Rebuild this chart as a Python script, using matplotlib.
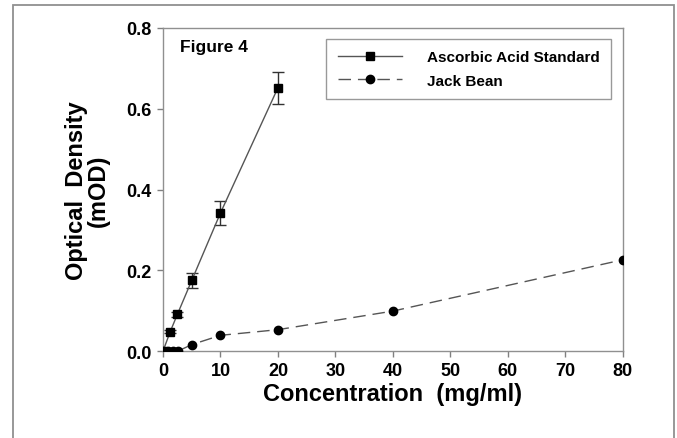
import matplotlib
matplotlib.use("Agg")
import matplotlib.pyplot as plt
from matplotlib.lines import Line2D
from matplotlib.patches import Rectangle

# ── Data ──────────────────────────────────────────────────────────────
asc_x   = [0, 1.25, 2.5, 5, 10, 20]
asc_y   = [0.0, 0.048, 0.091, 0.175, 0.342, 0.652]
asc_err = [0.0, 0.004, 0.006, 0.018, 0.030, 0.040]

bean_x = [0, 0.8, 1.7, 2.6, 5, 10, 20, 40, 80]
bean_y = [0.0, 0.0, 0.0, 0.0, 0.016, 0.039, 0.053, 0.099, 0.226]

x_ticks = [0, 10, 20, 30, 40, 50, 60, 70, 80]
y_ticks = [0.0, 0.2, 0.4, 0.6, 0.8]

plt.rcParams["font.family"] = ["Liberation Sans", "DejaVu Sans"]
plt.rcParams["font.weight"] = "bold"

fig = plt.figure(figsize=(6.77, 4.39), dpi=100)
ax = fig.add_axes([0.2408, 0.198, 0.679, 0.736])

# outer grey frame of the original page
fig.patches.append(Rectangle((12.5 / 677, -0.05), (674 - 12.5) / 677, 1.05 - 6 / 439,
                             transform=fig.transFigure, fill=False,
                             edgecolor="#909090", linewidth=1.3))

ax.errorbar(asc_x, asc_y, yerr=asc_err, color="#555555", linewidth=1.0,
            marker="s", markersize=6, markerfacecolor="black",
            markeredgecolor="black", ecolor="#333333", elinewidth=1.0,
            capsize=4, zorder=3)
ax.plot(bean_x, bean_y, color="#555555", linewidth=1.0, dashes=(9, 5),
        marker="o", markersize=6, markerfacecolor="black",
        markeredgecolor="black", zorder=3)

ax.set_xlim(0, 80)
ax.set_ylim(0, 0.8)
ax.set_xticks(x_ticks)
ax.set_yticks(y_ticks)
ax.set_yticklabels([f"{v:.1f}" for v in y_ticks])
ax.tick_params(direction="out", length=4, width=1, color="#808080",
               labelsize=13, pad=4)
for lbl in ax.get_xticklabels() + ax.get_yticklabels():
    lbl.set_fontweight("bold")
for s in ax.spines.values():
    s.set_color("#909090")
    s.set_linewidth(1.0)

ax.set_xlabel("Concentration  (mg/ml)", fontsize=17, fontweight="bold", labelpad=2)
ax.set_ylabel("Optical  Density\n(mOD)", fontsize=17, fontweight="bold",
              labelpad=12, linespacing=0.95)

ax.text(0.037, 0.944, "Figure 4", transform=ax.transAxes, fontsize=12.5,
        fontweight="bold", va="center", ha="left")

handles = [
    Line2D([], [], color="#555555", linewidth=1.0, marker="s", markersize=6,
           markerfacecolor="black", markeredgecolor="black"),
    Line2D([], [], color="#555555", linewidth=1.0, dashes=(9, 5), marker="o",
           markersize=6, markerfacecolor="black", markeredgecolor="black"),
]
leg = ax.legend(handles, ["Ascorbic Acid Standard", "Jack Bean"],
                loc="upper right", bbox_to_anchor=(0.974, 0.966),
                fontsize=11, frameon=True, fancybox=False,
                handlelength=4.2, borderpad=0.75, labelspacing=0.6,
                handletextpad=1.6, borderaxespad=0)
leg.get_frame().set_edgecolor("#808080")
leg.get_frame().set_linewidth(1.0)
for t in leg.get_texts():
    t.set_fontweight("bold")

fig.savefig("out.png", dpi=100)
